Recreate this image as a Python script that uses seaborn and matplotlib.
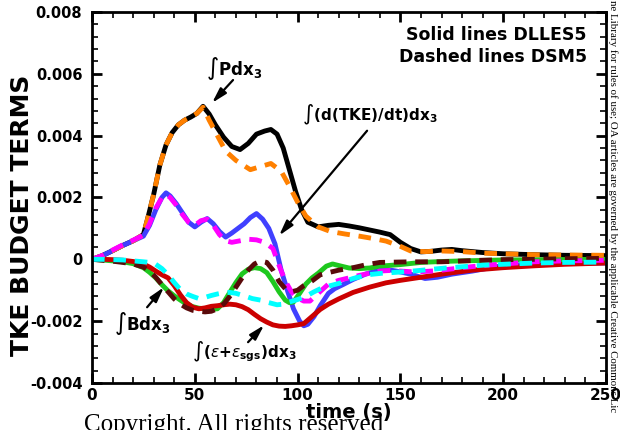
import numpy as np
import pandas as pd
import matplotlib
matplotlib.use("Agg")
import matplotlib.pyplot as plt
from matplotlib.ticker import MultipleLocator, FuncFormatter
import seaborn as sns

# ---- TKE budget terms integrated over x3 (values in 1e-3) ----
# Production, DLLES5 (solid)
t_P_dl = [0, 5, 10, 15, 20, 25, 27, 30, 33, 36, 39, 42, 45, 48, 51, 54, 57, 60, 64, 68,
          72, 76, 80, 84, 87, 90, 93, 96, 99, 102, 105, 110, 115, 120, 125, 130, 135, 140,
          145, 150, 155, 160, 165, 170, 175, 180, 190, 200, 215, 230, 250]
P_dl = [0, 0.12, 0.28, 0.45, 0.6, 0.8, 1.3, 2.1, 3.05, 3.7, 4.1, 4.35, 4.5, 4.6, 4.72, 4.95,
        4.7, 4.35, 3.95, 3.65, 3.55, 3.75, 4.05, 4.15, 4.2, 4.05, 3.6, 2.9, 2.2, 1.6, 1.2,
        1.05, 1.1, 1.13, 1.08, 1.02, 0.95, 0.88, 0.8, 0.55, 0.35, 0.24, 0.26, 0.3, 0.32,
        0.28, 0.22, 0.18, 0.15, 0.13, 0.12]
# Production, DSM5 (dashed)
t_P_dsm = [0, 5, 10, 15, 20, 25, 27, 30, 33, 36, 39, 42, 45, 48, 51, 54, 57, 61, 65, 70,
           77, 82, 87, 92, 96, 100, 104, 110, 116, 123, 130, 137, 143, 150, 155, 162, 170,
           180, 190, 200, 215, 230, 250]
P_dsm = [0, 0.12, 0.28, 0.45, 0.6, 0.8, 1.3, 2.1, 3.05, 3.7, 4.1, 4.35, 4.5, 4.6, 4.72, 4.92,
         4.5, 4.0, 3.5, 3.2, 2.9, 3.0, 3.1, 2.85, 2.37, 1.85, 1.4, 1.05, 0.9, 0.82, 0.75,
         0.67, 0.59, 0.42, 0.27, 0.25, 0.27, 0.25, 0.2, 0.18, 0.15, 0.14, 0.13]
# d(TKE)/dt, DLLES5 (solid)
t_T_dl = [0, 5, 10, 15, 20, 25, 28, 31, 34, 36, 38, 41, 44, 47, 50, 53, 56, 59, 62, 65, 68,
          71, 74, 77, 80, 83, 86, 89, 92, 95, 98, 101, 103, 105, 108, 111, 115, 118, 122,
          127, 133, 138, 143, 148, 155, 162, 168, 175, 185, 198, 215, 230, 250]
T_dl = [0, 0.12, 0.28, 0.45, 0.6, 0.75, 1.1, 1.6, 2.0, 2.15, 2.05, 1.8, 1.5, 1.2, 1.05, 1.2,
        1.32, 1.15, 0.9, 0.72, 0.85, 1.0, 1.15, 1.35, 1.48, 1.3, 1.0, 0.5, -0.35, -1.0,
        -1.6, -2.0, -2.15, -2.1, -1.85, -1.5, -1.1, -0.95, -0.82, -0.65, -0.48, -0.38,
        -0.32, -0.38, -0.48, -0.62, -0.58, -0.48, -0.38, -0.22, -0.15, -0.13, -0.12]
# d(TKE)/dt, DSM5 (dashed)
t_T_dsm = [0, 5, 10, 15, 20, 25, 28, 31, 34, 36, 38, 41, 44, 47, 50, 53, 56, 59, 62, 65, 68,
           72, 76, 80, 84, 88, 91, 94, 97, 100, 103, 106, 110, 115, 120, 125, 130, 135, 140,
           145, 150, 155, 160, 165, 170, 180, 190, 200, 215, 230, 250]
T_dsm = [0, 0.12, 0.3, 0.47, 0.62, 0.78, 1.15, 1.65, 2.0, 2.1, 2.0, 1.75, 1.45, 1.2, 1.1,
         1.25, 1.3, 1.1, 0.8, 0.6, 0.55, 0.6, 0.65, 0.63, 0.55, 0.35, -0.2, -0.7, -1.05,
         -1.25, -1.35, -1.35, -1.1, -0.8, -0.68, -0.6, -0.52, -0.45, -0.38, -0.36, -0.38,
         -0.4, -0.4, -0.38, -0.35, -0.27, -0.2, -0.15, -0.08, -0.05, -0.03]
# Buoyancy, DLLES5 (solid)
t_B_dl = [0, 5, 10, 15, 20, 25, 28, 31, 34, 37, 40, 43, 46, 49, 52, 55, 58, 61, 64, 67, 70,
          73, 76, 79, 82, 85, 88, 91, 94, 96, 98, 101, 104, 107, 110, 114, 117, 120, 125,
          130, 135, 140, 150, 160, 170, 180, 200, 225, 250]
B_dl = [0, -0.02, -0.05, -0.08, -0.14, -0.27, -0.42, -0.6, -0.82, -1.02, -1.18, -1.32, -1.45,
        -1.53, -1.58, -1.6, -1.61, -1.6, -1.4, -1.07, -0.75, -0.47, -0.32, -0.27, -0.3,
        -0.43, -0.72, -1.05, -1.32, -1.4, -1.38, -1.1, -0.8, -0.6, -0.45, -0.22, -0.15,
        -0.2, -0.28, -0.3, -0.28, -0.22, -0.17, -0.1, -0.07, -0.05, -0.02, -0.01, 0.0]
# Buoyancy, DSM5 (dashed)
t_B_dsm = [0, 5, 10, 15, 20, 25, 28, 31, 34, 37, 40, 43, 46, 49, 52, 55, 58, 61, 64, 67, 70,
           73, 76, 79, 82, 85, 88, 91, 94, 97, 100, 103, 107, 111, 115, 120, 127, 133, 140,
           155, 170, 185, 200, 215, 230, 250]
B_dsm = [0, -0.03, -0.06, -0.1, -0.15, -0.25, -0.38, -0.58, -0.82, -1.05, -1.28, -1.45,
         -1.57, -1.65, -1.68, -1.7, -1.68, -1.6, -1.45, -1.2, -0.9, -0.6, -0.35, -0.15,
         -0.05, -0.1, -0.35, -0.72, -0.95, -1.05, -1.0, -0.85, -0.7, -0.5, -0.43, -0.35,
         -0.27, -0.18, -0.1, -0.08, -0.08, -0.04, -0.01, 0.0, 0.02, 0.03]
# Dissipation (resolved + SGS), DLLES5 (solid)
t_E_dl = [0, 5, 10, 15, 20, 24, 28, 31, 34, 37, 40, 43, 46, 49, 52, 55, 58, 61, 64, 67, 70,
          73, 76, 79, 82, 85, 88, 91, 94, 97, 100, 103, 107, 111, 115, 120, 127, 135, 143,
          150, 160, 172, 185, 200, 215, 230, 250]
E_dl = [0, 0, -0.01, -0.03, -0.07, -0.12, -0.25, -0.38, -0.5, -0.6, -0.85, -1.15, -1.4,
        -1.55, -1.6, -1.57, -1.52, -1.5, -1.47, -1.45, -1.47, -1.53, -1.63, -1.78, -1.92,
        -2.03, -2.12, -2.16, -2.17, -2.15, -2.12, -2.08, -1.85, -1.62, -1.45, -1.28,
        -1.07, -0.9, -0.76, -0.68, -0.58, -0.46, -0.35, -0.27, -0.21, -0.16, -0.12]
# Dissipation (resolved + SGS), DSM5 (dashed)
t_E_dsm = [0, 5, 10, 15, 20, 25, 28, 31, 34, 37, 40, 43, 46, 49, 52, 55, 58, 61, 64, 67, 70,
           74, 78, 82, 86, 90, 93, 96, 100, 104, 108, 112, 116, 120, 127, 134, 141, 148,
           156, 164, 172, 180, 190, 200, 215, 230, 250]
E_dsm = [0, 0, -0.01, -0.02, -0.05, -0.08, -0.1, -0.16, -0.3, -0.5, -0.75, -0.98, -1.12,
         -1.2, -1.27, -1.23, -1.17, -1.12, -1.08, -1.07, -1.1, -1.18, -1.27, -1.32, -1.4,
         -1.47, -1.45, -1.38, -1.3, -1.2, -1.05, -0.92, -0.85, -0.78, -0.62, -0.5, -0.45,
         -0.42, -0.38, -0.33, -0.28, -0.24, -0.19, -0.16, -0.12, -0.1, -0.09]

# tick labels / axis text
y_ticks = [-0.004, -0.002, 0.0, 0.002, 0.004, 0.006, 0.008]
x_ticks = [0, 50, 100, 150, 200, 250]

series = [
    # (name, times, values, colour, dashed)
    ("P DLLES5", t_P_dl, P_dl, "#000000", False),
    ("dTKE DLLES5", t_T_dl, T_dl, "#4040ff", False),
    ("B DLLES5", t_B_dl, B_dl, "#1ec81e", False),
    ("eps DLLES5", t_E_dl, E_dl, "#cc0000", False),
    ("P DSM5", t_P_dsm, P_dsm, "#ff8000", True),
    ("dTKE DSM5", t_T_dsm, T_dsm, "#ff00ff", True),
    ("B DSM5", t_B_dsm, B_dsm, "#5a0a0a", True),
    ("eps DSM5", t_E_dsm, E_dsm, "#00ffff", True),
]

frames = []
for name, tt, vv, col, dashed in series:
    frames.append(pd.DataFrame({"time": tt, "value": np.array(vv) * 1e-3, "series": name}))
df = pd.concat(frames, ignore_index=True)

sns.set_style("ticks")
plt.rcParams["font.family"] = ["DejaVu Sans"]
plt.rcParams["mathtext.fontset"] = "dejavusans"
for key in ("text.color", "axes.labelcolor", "xtick.color", "ytick.color",
            "xtick.labelcolor", "ytick.labelcolor", "axes.edgecolor"):
    plt.rcParams[key] = "black"

fig = plt.figure(figsize=(6.2, 4.3), dpi=100)
ax = fig.add_axes([92 / 620, 47 / 430, 514 / 620, 371 / 430])

LW = 3.5
for name, tt, vv, col, dashed in series:
    sub = df[df["series"] == name]
    kw = dict(linestyle=(0, (2.6, 1.8))) if dashed else {}
    sns.lineplot(data=sub, x="time", y="value", color=col, linewidth=LW, ax=ax,
                 legend=False, solid_capstyle="butt", dash_capstyle="butt", **kw)

ax.set_xlim(0, 250)
ax.set_ylim(-0.004, 0.008)
ax.set_xticks(x_ticks)
ax.set_yticks(y_ticks)
ax.xaxis.set_minor_locator(MultipleLocator(10))
ax.yaxis.set_minor_locator(MultipleLocator(0.0004))
ax.yaxis.set_major_formatter(FuncFormatter(lambda v, p: "0" if abs(v) < 1e-12 else f"{v:.3f}"))
ax.tick_params(which="both", direction="in", top=True, right=True, color="black")
ax.tick_params(which="major", length=7, width=2)
ax.tick_params(which="minor", length=4, width=1.2)
ax.tick_params(axis="y", which="major", pad=7, labelsize=10.5, labelcolor="black")
ax.tick_params(axis="x", which="major", pad=3.5, labelsize=11, labelcolor="black")
for lab in ax.get_xticklabels() + ax.get_yticklabels():
    lab.set_fontweight("bold")
for s in ax.spines.values():
    s.set_linewidth(2)
    s.set_color("black")
ax.grid(False)

ax.set_xlabel("time (s)", fontsize=14, fontweight="bold", labelpad=0, color="black")
ax.set_ylabel("")
fig.text(22 / 620, 1 - 215 / 430, "TKE BUDGET TERMS", rotation=90, ha="center", va="center",
         fontsize=18, fontweight="bold", color="black")

# model key
ax.text(0.963, 0.938, "Solid lines DLLES5", transform=ax.transAxes, ha="right", va="center",
        fontsize=12.5, fontweight="bold", color="black")
ax.text(0.963, 0.879, "Dashed lines DSM5", transform=ax.transAxes, ha="right", va="center",
        fontsize=12.5, fontweight="bold", color="black")

# term labels with arrows
arrow = dict(arrowstyle="-|>,head_length=0.9,head_width=0.25", color="black", lw=1.6,
             shrinkA=0, shrinkB=0)
ax.text(69.1, 0.00616, r"$\int\mathbf{Pdx}_\mathbf{3}$", ha="center", va="center",
        fontsize=12, color="black")
ax.annotate("", xy=(58.4, 0.00506), xytext=(68.6, 0.0058), arrowprops=arrow)

ax.text(135.2, 0.00468, r"$\int\mathbf{(d(TKE)/dt)dx}_\mathbf{3}$", ha="center", va="center",
        fontsize=11, color="black")
ax.annotate("", xy=(91.0, 0.00077), xytext=(133.8, 0.00416), arrowprops=arrow)

ax.text(24.6, -0.00206, r"$\int\mathbf{Bdx}_\mathbf{3}$", ha="center", va="center",
        fontsize=12, color="black")
ax.annotate("", xy=(35.0, -0.0009), xytext=(26.8, -0.00155), arrowprops=arrow)

ax.text(74.2, -0.0030, r"$\int\mathbf{(}\varepsilon\mathbf{+}\varepsilon_\mathbf{sgs}\mathbf{)dx}_\mathbf{3}$",
        ha="center", va="center", fontsize=11, color="black")
ax.annotate("", xy=(83.7, -0.00213), xytext=(75.9, -0.00268), arrowprops=arrow)

# page furniture around the figure
fig.text(84 / 620, -1.0 / 430, "Copyright. All rights reserved", ha="left", va="baseline",
         fontsize=18, family="Liberation Serif", color="black", zorder=0)
fig.text(613 / 620, 1.0, "ne Library for rules of use; OA articles are governed by the applicable Creative Commons Lic",
         rotation=270, ha="center", va="top", fontsize=7.8, family="Liberation Serif",
         color="black")

fig.savefig("out.png", dpi=100)
